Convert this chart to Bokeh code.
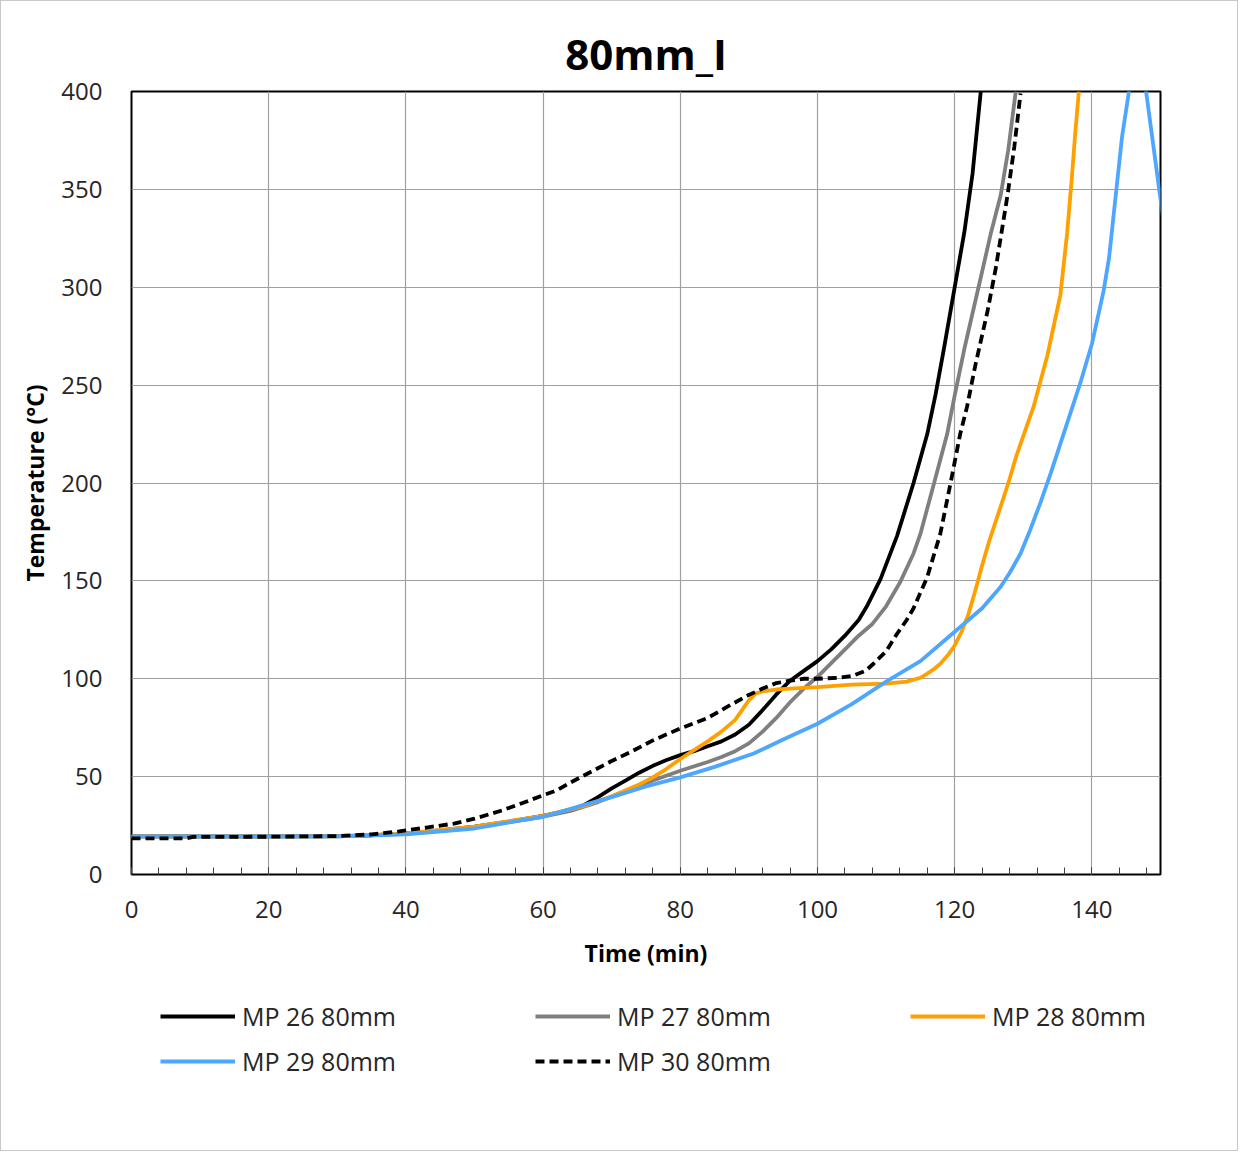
from bokeh.plotting import figure
from bokeh.models import Legend, LegendItem, FixedTicker, Range1d
from bokeh.layouts import column
from bokeh.embed import file_html
from bokeh.resources import INLINE

# ---- data ----
mp26_t = [0, 10, 20, 30, 35, 40, 45, 50, 55, 60, 64, 66, 68, 70, 72, 74, 76, 78, 80, 82, 84, 86, 88, 90, 92, 94, 96, 98, 100, 102, 104, 106, 107.2, 109.2, 111.6, 114, 116, 117.2, 118.4, 119.9, 121.4, 122.6, 123.8]
mp26_v = [19.5, 19.5, 19.5, 19.6, 20, 21, 22.5, 24.5, 27, 30, 33, 35.5, 39.5, 44, 48, 52, 55.5, 58.5, 61, 63, 65.5, 68, 71.5, 76.5, 84, 92, 99, 104, 109, 115, 122, 130, 137, 151, 173, 200, 225, 245, 268, 298, 328, 358, 400]

mp27_t = [0, 10, 20, 30, 40, 50, 60, 64, 68, 72, 76, 80, 84, 86, 88, 90, 92, 94, 96, 98, 100, 102, 104.3, 106, 108, 110, 112, 114, 115, 117, 118.9, 119.9, 121.5, 123.8, 125.3, 126.7, 127.8, 128.9]
mp27_v = [19.5, 19.5, 19.5, 19.5, 20.8, 24, 29.5, 32.5, 37, 42.5, 48, 53, 57.5, 60, 63, 67, 73, 80, 88, 95, 101, 108, 116, 122, 128, 137, 149, 164, 174, 200, 225, 243, 270, 305, 328, 347, 370, 400]

mp28_t = [0, 10, 20, 30, 40, 50, 60, 66, 70, 74, 76, 78, 80, 82, 84, 86, 88, 89, 90, 91, 92, 94, 96, 100, 105, 110, 113, 115, 116, 117, 118, 119, 120, 121, 122, 123, 124, 125, 126.7, 128, 129, 131.5, 133.5, 135.4, 136.4, 137.1, 137.6, 138.1]
mp28_v = [19.5, 19.5, 19.5, 19.5, 21, 24.5, 30, 35, 40, 46, 49.6, 54, 59, 63.5, 68, 73, 79, 84, 89, 92.5, 93.5, 94.5, 95, 95.7, 97, 97.5, 98.5, 100.5, 102.6, 105, 108, 112, 117, 124, 133, 145, 158, 170, 188, 202, 214, 239, 265, 296, 328, 357, 380, 400]

mp29_t = [0, 10, 20, 30, 40, 50, 56.7, 60, 66.4, 70, 75, 80, 85, 90.7, 95, 100, 105, 110, 115, 118, 120, 122, 124, 126.7, 128, 129.6, 131, 132.5, 134, 135.4, 138.3, 140, 141.7, 142.5, 143.2, 144.4, 145.4, 146.2, 147.2, 147.9, 150, 151]
mp29_v = [19.5, 19.5, 19.5, 19.5, 20.5, 23.5, 27.6, 29.5, 36, 39.5, 45, 49.6, 55, 61.8, 69, 77, 87, 98.5, 109, 118, 124, 130, 136, 147, 154, 164, 176, 190, 205, 220, 251, 271, 298, 315, 338, 377, 400, 415, 415, 400, 345, 320]

mp30_t = [0, 8, 9, 20, 30, 35, 39, 43, 47, 50, 54, 57, 60, 62, 64, 67, 70, 73, 76, 80, 84, 87, 89.8, 92, 94, 96, 98, 100, 103.4, 105.2, 107, 108.2, 110, 111.6, 113, 114, 116, 117.9, 119.4, 120.8, 121.8, 123, 124.8, 126, 127.7, 128.7, 129.6]
mp30_v = [18.5, 18.5, 19.2, 19.3, 19.6, 20.5, 22, 24, 26, 28.5, 32.7, 36.5, 40.5, 43, 47, 52.5, 58, 63, 68.5, 74.6, 80, 86, 91.4, 95, 97.8, 99, 100, 100, 100.6, 101.6, 104, 107.8, 114, 123, 130, 136, 152, 174, 200, 225, 239, 260, 288, 310, 347, 372, 399]

series_names = ["MP 26 80mm", "MP 27 80mm", "MP 28 80mm", "MP 29 80mm", "MP 30 80mm"]
x_ticks = [0, 20, 40, 60, 80, 100, 120, 140]
y_ticks = [0, 50, 100, 150, 200, 250, 300, 350, 400]

FONT = "Open Sans"
colors = ["black", "#7f7f7f", "#ffa000", "#4da6ff", "black"]
dashes = ["solid", "solid", "solid", "solid", "9 5"]
LW = 3.8

p = figure(width=1236, height=985, output_backend="svg", toolbar_location=None,
           x_range=Range1d(0, 150), y_range=Range1d(0, 400),
           min_border_left=130, min_border_right=77, min_border_top=90, min_border_bottom=112,
           title="80mm_I")

p.title.align = "center"
p.title.text_font = FONT
p.title.text_font_size = "42px"
p.title.text_font_style = "bold"
p.title.text_color = "black"
p.title.standoff = 19

p.outline_line_color = "black"
p.outline_line_width = 2

p.xgrid.grid_line_color = "#a0a0a0"
p.ygrid.grid_line_color = "#a0a0a0"
p.xgrid.grid_line_width = 1.2
p.ygrid.grid_line_width = 1.2

p.xaxis.ticker = FixedTicker(ticks=x_ticks, minor_ticks=list(range(0, 151, 4)))
p.yaxis.ticker = FixedTicker(ticks=y_ticks)
p.xgrid.ticker = FixedTicker(ticks=x_ticks)
p.ygrid.ticker = FixedTicker(ticks=y_ticks)

for ax in (p.xaxis[0], p.yaxis[0]):
    ax.axis_line_color = None
    ax.major_label_text_font = FONT
    ax.major_label_text_font_size = "24px"
    ax.major_label_text_color = "#262626"
    ax.axis_label_text_font = FONT
    ax.axis_label_text_font_style = "bold"
    ax.axis_label_text_font_size = "23px"
    ax.axis_label_text_color = "black"

p.xaxis.axis_label = "Time (min)"
p.yaxis.axis_label = "Temperature (°C)"

p.xaxis.major_tick_in = 7
p.xaxis.major_tick_out = 0
p.xaxis.minor_tick_in = 7
p.xaxis.minor_tick_out = 0
p.xaxis.major_tick_line_color = "#404040"
p.xaxis.minor_tick_line_color = "#404040"
p.xaxis.major_label_standoff = 26
p.xaxis.axis_label_standoff = 16

p.yaxis.major_tick_line_color = None
p.yaxis.minor_tick_line_color = None
p.yaxis.major_label_standoff = 23
p.yaxis.axis_label_standoff = 7

data = [(mp26_t, mp26_v), (mp27_t, mp27_v), (mp28_t, mp28_v), (mp29_t, mp29_v), (mp30_t, mp30_v)]
for i, (t, v) in enumerate(data):
    p.line(t, v, line_color=colors[i], line_width=LW, line_dash=dashes[i])

# ---- legend strip below the chart (its own lines lie outside its ranges, so only the legend shows) ----
pl = figure(width=1236, height=164, output_backend="svg", toolbar_location=None,
            x_range=Range1d(1000, 1001), y_range=Range1d(1000, 1001),
            x_axis_type=None, y_axis_type=None,
            min_border_left=130, min_border_right=77, min_border_top=0, min_border_bottom=0)
pl.outline_line_color = None
pl.xgrid.visible = False
pl.ygrid.visible = False
leg_renderers = []
for i, (t, v) in enumerate(data):
    leg_renderers.append(pl.line(t, v, line_color=colors[i], line_width=LW, line_dash=dashes[i]))

items = [LegendItem(label=series_names[i], renderers=[leg_renderers[i]]) for i in range(5)]
legend = Legend(items=items, orientation="horizontal", ncols=3,
                location=(29, 69), margin=0, padding=0,
                glyph_width=75, glyph_height=20, label_standoff=7,
                label_width=288, label_height=40, spacing=5,
                label_text_font=FONT, label_text_font_size="25px",
                label_text_color="#262626",
                border_line_color=None, background_fill_alpha=0)
pl.add_layout(legend, "center")

layout = column(p, pl, spacing=0)
layout.styles = {"border": "1px solid #c8c8c8"}

open("out.html", "w").write(file_html(layout, INLINE))
